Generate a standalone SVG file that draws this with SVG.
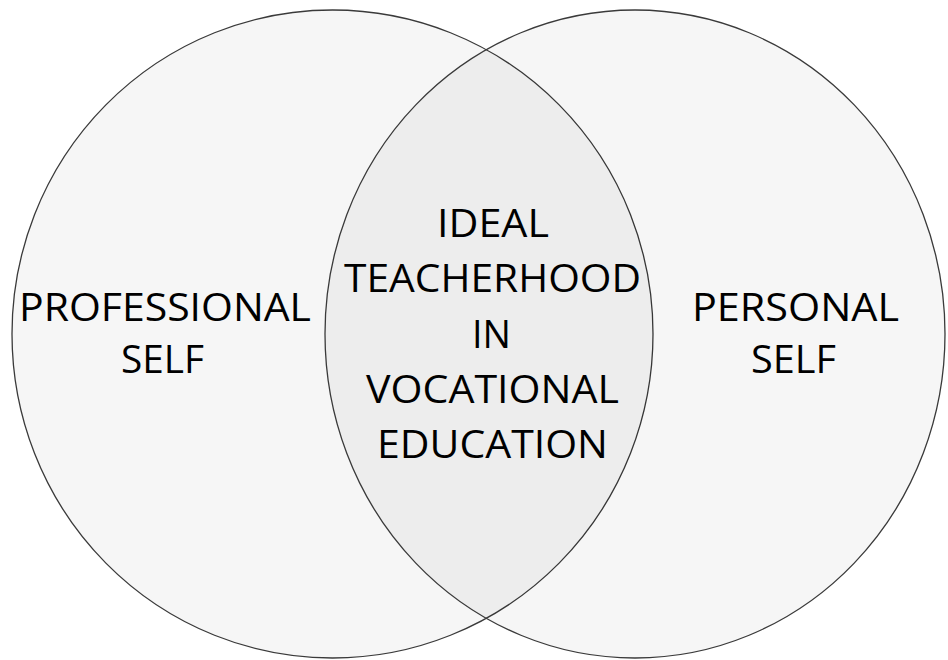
<svg xmlns="http://www.w3.org/2000/svg" width="948" height="660" viewBox="0 0 948 660">
  <style>
    .set { fill: #000000; fill-opacity: 0.035; stroke: #3a3a3a; stroke-width: 1.3; }
    .label { font-family: "Open Sans", "Noto Sans", sans-serif; font-size: 38px; fill: #000000; text-anchor: middle; }
  </style>
  <rect width="948" height="660" fill="#ffffff"/>
  <g id="professional-self">
    <ellipse class="set" cx="332.5" cy="334" rx="320.5" ry="324"/>
  </g>
  <g id="personal-self">
    <ellipse class="set" cx="635" cy="334" rx="310" ry="324"/>
  </g>
  <g id="labels">
    <g id="professional-label">
      <text class="label" x="165" y="321" textLength="292" lengthAdjust="spacingAndGlyphs">PROFESSIONAL</text>
      <text class="label" x="162.5" y="373" textLength="83" lengthAdjust="spacingAndGlyphs">SELF</text>
    </g>
    <g id="personal-label">
      <text class="label" x="795.5" y="321" textLength="207" lengthAdjust="spacingAndGlyphs">PERSONAL</text>
      <text class="label" x="793.5" y="373" textLength="85" lengthAdjust="spacingAndGlyphs">SELF</text>
    </g>
    <g id="ideal-teacherhood">
      <text class="label" x="493" y="237" textLength="112" lengthAdjust="spacingAndGlyphs">IDEAL</text>
      <text class="label" x="492.5" y="292" textLength="297" lengthAdjust="spacingAndGlyphs">TEACHERHOOD</text>
      <text class="label" x="491.5" y="348" textLength="39" lengthAdjust="spacingAndGlyphs">IN</text>
      <text class="label" x="492.5" y="403" textLength="253" lengthAdjust="spacingAndGlyphs">VOCATIONAL</text>
      <text class="label" x="492.5" y="458" textLength="231" lengthAdjust="spacingAndGlyphs">EDUCATION</text>
    </g>
  </g>
</svg>
